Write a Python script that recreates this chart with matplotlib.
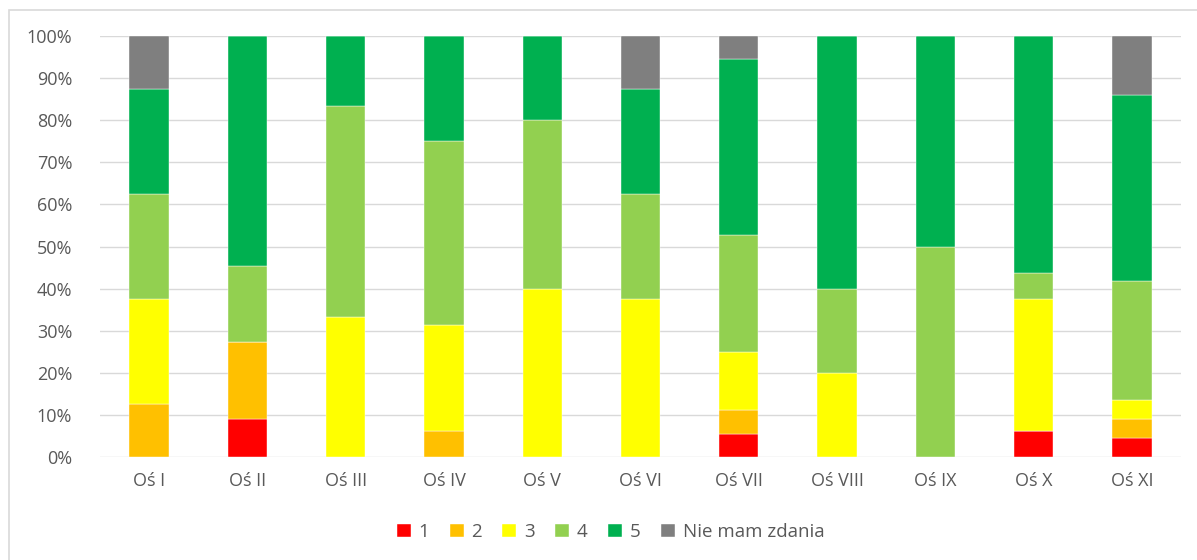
import matplotlib.pyplot as plt
import numpy as np
from matplotlib.patches import Rectangle

categories = ["Oś I", "Oś II", "Oś III", "Oś IV", "Oś V", "Oś VI",
              "Oś VII", "Oś VIII", "Oś IX", "Oś X", "Oś XI"]
series_names = ["1", "2", "3", "4", "5", "Nie mam zdania"]

# percent shares per category
s1 = [0, 9.09, 0, 0, 0, 0, 5.56, 0, 0, 6.25, 4.55]
s2 = [12.5, 18.18, 0, 6.25, 0, 0, 5.56, 0, 0, 0, 4.55]
s3 = [25.0, 0, 33.33, 25.0, 40.0, 37.5, 13.89, 20.0, 0, 31.25, 4.55]
s4 = [25.0, 18.18, 50.0, 43.75, 40.0, 25.0, 27.78, 20.0, 50.0, 6.25, 28.2]
s5 = [25.0, 54.55, 16.67, 25.0, 20.0, 25.0, 41.67, 60.0, 50.0, 56.25, 44.1]
s_none = [12.5, 0, 0, 0, 0, 12.5, 5.56, 0, 0, 0, 14.05]

colors = ["#FF0000", "#FFC000", "#FFFF00", "#92D050", "#00B050", "#7F7F7F"]

plt.rcParams["font.family"] = ["Open Sans", "DejaVu Sans"]

fig = plt.figure(figsize=(11.97, 5.6), dpi=100)
ax = fig.add_axes([100 / 1197, 1 - 457 / 560, 1081 / 1197, 421 / 560])

# chart border
fig.patches.append(Rectangle((9 / 1197, -0.01), 1.2, 1 - 10 / 560 + 0.01,
                             transform=fig.transFigure, fill=False,
                             edgecolor="#D9D9D9", linewidth=1.2))

x = np.arange(len(categories))
bottom = np.zeros(len(categories))
for name, vals, col in zip(series_names, [s1, s2, s3, s4, s5, s_none], colors):
    vals = np.array(vals)
    ax.bar(x, vals, width=0.4, bottom=bottom, color=col, label=name,
           edgecolor="white", linewidth=0.3, zorder=3)
    bottom += vals

ax.set_xlim(-0.5, len(categories) - 0.5)
ax.set_ylim(0, 100)
ax.set_yticks(np.arange(0, 101, 10))
ax.set_yticklabels([f"{v}%" for v in range(0, 101, 10)])
ax.set_xticks(x)
ax.set_xticklabels(categories)
ax.grid(axis="y", color="#D9D9D9", linewidth=1.0, zorder=0)
for sp in ax.spines.values():
    sp.set_visible(False)
ax.tick_params(axis="both", length=0, labelsize=13, colors="#595959")
ax.tick_params(axis="x", pad=11)
ax.tick_params(axis="y", pad=20)

ax.legend(loc="center", bbox_to_anchor=(0.51, (560 - 532) / 560), bbox_transform=fig.transFigure,
          ncol=6, frameon=False, fontsize=13.5, handlelength=0.75, handleheight=0.75,
          handletextpad=0.4, columnspacing=1.1, labelcolor="#595959")

fig.savefig("out.png", dpi=100)
